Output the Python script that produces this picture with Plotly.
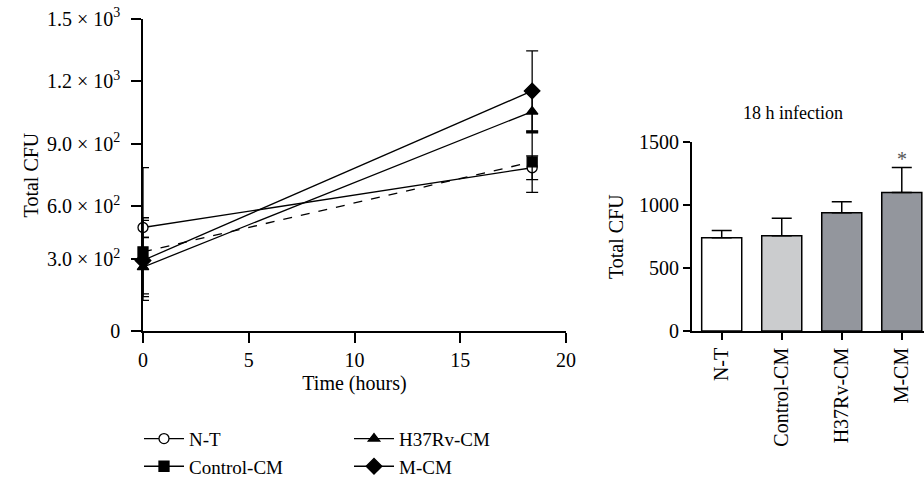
import plotly.graph_objects as go

# ---------------- data ----------------
time_hours = [0, 18.4]
series_names = ["N-T", "Control-CM", "H37Rv-CM", "M-CM"]
nt_cfu = [498, 785]
nt_err = [47, 57]
ctrl_cfu = [381, 813]
ctrl_err_plus = [405, 146]
ctrl_err_minus = [202, 146]
h37_cfu = [308, 1055]
h37_err = [142, 102]
mcm_cfu = [340, 1154]
mcm_err = [192, 192]

bar_categories = ["N-T", "Control-CM", "H37Rv-CM", "M-CM"]
bar_values = [741, 758, 941, 1102]
bar_errors = [59, 139, 87, 198]
bar_colors = ["#ffffff", "#cbccce", "#93969d", "#93969d"]

left_tickvals = [0, 345, 600, 900, 1200, 1500]
left_ticktext = ["0", "3.0 × 10<sup>2</sup>", "6.0 × 10<sup>2</sup>",
                 "9.0 × 10<sup>2</sup>", "1.2 × 10<sup>3</sup>", "1.5 × 10<sup>3</sup>"]
x_tickvals = [0, 5, 10, 15, 20]
bar_tickvals = [0, 500, 1000, 1500]

FONT = "Liberation Serif"
FS = 20
LFS = 19
W, H = 924, 486

fig = go.Figure()

def add_line(name, y, plus, minus, symbol, fill, dash, legend, show=True):
    fig.add_trace(go.Scatter(
        x=time_hours, y=y, name=name, mode="lines+markers",
        line=dict(color="black", width=1.3, dash=dash),
        marker=dict(symbol=symbol, size=10 if symbol != "diamond" else 12,
                    color=fill, line=dict(color="black", width=1.3)),
        error_y=dict(type="data", array=plus, arrayminus=minus, symmetric=False,
                     color="black", thickness=1.3, width=6),
        xaxis="x", yaxis="y", legend=legend, cliponaxis=False, showlegend=show))

add_line("N-T", nt_cfu, nt_err, nt_err, "circle", "white", "solid", "legend")
add_line("Control-CM", ctrl_cfu, ctrl_err_plus, ctrl_err_minus, "square", "black", "dash",
         "legend", show=False)
# legend entry for Control-CM (drawn with a solid key, as in the reference)
fig.add_trace(go.Scatter(
    x=[None], y=[None], name="Control-CM", mode="lines+markers",
    line=dict(color="black", width=1.3),
    marker=dict(symbol="square", size=10, color="black", line=dict(color="black", width=1.3)),
    xaxis="x", yaxis="y", legend="legend"))
add_line("H37Rv-CM", h37_cfu, h37_err, h37_err, "triangle-up", "black", "solid", "legend2")
add_line("M-CM", mcm_cfu, mcm_err, mcm_err, "diamond", "black", "solid", "legend2")

fig.add_trace(go.Bar(
    x=list(range(len(bar_categories))), y=bar_values, width=0.667,
    marker=dict(color=bar_colors, line=dict(color="black", width=1.5)),
    error_y=dict(type="data", array=bar_errors, arrayminus=[0] * len(bar_errors),
                 symmetric=False, color="black", thickness=1.5, width=10),
    xaxis="x2", yaxis="y2", showlegend=False))

def px_x(p):
    return p / W

def px_y(p):
    return (H - p) / H

axis_common = dict(showline=True, linecolor="black", linewidth=1.5, ticks="outside",
                   tickcolor="black", tickwidth=1.5, showgrid=False, zeroline=False,
                   automargin=False, tickfont=dict(family=FONT, size=FS, color="black"))

fig.update_layout(
    width=W, height=H, margin=dict(l=0, r=0, t=0, b=0),
    plot_bgcolor="white", paper_bgcolor="white",
    font=dict(family=FONT, size=FS, color="black"),
    xaxis=dict(domain=[px_x(143), px_x(566)], range=[0, 20], tickvals=x_tickvals,
               ticklen=10, anchor="y",
               title=dict(text="Time (hours)", standoff=6,
                          font=dict(family=FONT, size=FS)), **axis_common),
    yaxis=dict(domain=[px_y(342.5), px_y(19.5)], range=[0, 1500], tickvals=left_tickvals,
               ticktext=left_ticktext, ticklen=10, anchor="x", ticklabelstandoff=7,
               title=dict(text="Total CFU", standoff=3,
                          font=dict(family=FONT, size=FS)), **axis_common),
    xaxis2=dict(domain=[px_x(691.7), 1.0], range=[-0.5, 3.37],
                tickvals=list(range(len(bar_categories))), ticktext=bar_categories,
                tickangle=-90, ticklen=7, anchor="y2", **axis_common),
    yaxis2=dict(domain=[px_y(342.3), px_y(147.3)], range=[0, 1500], tickvals=bar_tickvals,
                ticklen=7, anchor="x2",
                title=dict(text="Total CFU", standoff=10,
                           font=dict(family=FONT, size=FS)), **axis_common),
    legend=dict(x=px_x(139), y=px_y(434), xanchor="left", yanchor="top",
                bgcolor="rgba(0,0,0,0)", font=dict(family=FONT, size=LFS),
                tracegroupgap=0, itemwidth=40),
    legend2=dict(x=px_x(349), y=px_y(434), xanchor="left", yanchor="top",
                 bgcolor="rgba(0,0,0,0)", font=dict(family=FONT, size=LFS),
                 tracegroupgap=0, itemwidth=40),
    annotations=[
        dict(text="18 h infection", x=px_x(793), y=px_y(117), xref="paper", yref="paper",
             xanchor="center", yanchor="middle", showarrow=False,
             font=dict(family=FONT, size=FS - 2)),
        dict(text="*", x=3, y=1365, xref="x2", yref="y2", showarrow=False,
             font=dict(family=FONT, size=FS, color="#555555")),
    ],
)

fig.write_html("out.html")
